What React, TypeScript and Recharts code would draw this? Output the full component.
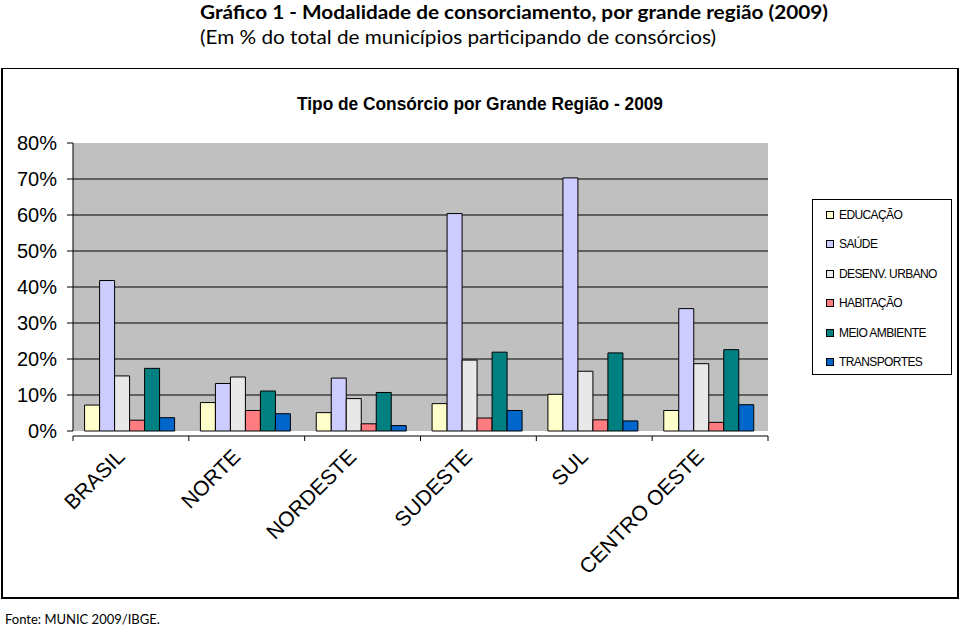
import React from 'react';
import { BarChart, Bar, XAxis, YAxis, CartesianGrid } from 'recharts';

const categories = ['BRASIL', 'NORTE', 'NORDESTE', 'SUDESTE', 'SUL', 'CENTRO OESTE'];
const educacao = [7.2, 7.9, 5.1, 7.6, 10.2, 5.7];
const saude = [41.8, 13.2, 14.7, 60.4, 70.3, 34.0];
const desenvUrbano = [15.3, 15.0, 9.0, 19.7, 16.6, 18.7];
const habitacao = [3.0, 5.7, 2.0, 3.6, 3.1, 2.4];
const meioAmbiente = [17.4, 11.1, 10.7, 21.9, 21.7, 22.6];
const transportes = [3.7, 4.8, 1.5, 5.7, 2.8, 7.3];
const yTicks = [0, 10, 20, 30, 40, 50, 60, 70, 80];
const boundaryTicks = [0, 1, 2, 3, 4, 5, 6];

const series = [
  { key: 'edu', name: 'EDUCAÇÃO', color: '#FFFFCC', values: educacao },
  { key: 'sau', name: 'SAÚDE', color: '#CCCCFF', values: saude },
  { key: 'des', name: 'DESENV. URBANO', color: '#E8E8E8', values: desenvUrbano },
  { key: 'hab', name: 'HABITAÇÃO', color: '#FF7C80', values: habitacao },
  { key: 'mei', name: 'MEIO AMBIENTE', color: '#008080', values: meioAmbiente },
  { key: 'tra', name: 'TRANSPORTES', color: '#0066CC', values: transportes },
];

const data = categories.map((c, i) => {
  const row: any = { cat: c, pos: i + 0.5 };
  series.forEach((s) => (row[s.key] = s.values[i]));
  return row;
});

const ARIAL = '"Liberation Sans", Arial, sans-serif';
const CAL = 'Lato, "Open Sans", sans-serif';

const XTick = (props: any) => {
  const { x, y, payload } = props;
  return (
    <g transform={`translate(${x - 5},${y + 19})`}>
      <text
        transform="rotate(-45)"
        textAnchor="end"
        fontFamily={ARIAL}
        fontSize={21}
        fill="#000"
      >
        {payload.value}
      </text>
    </g>
  );
};

export default function App() {
  return (
    <div style={{ position: 'relative', width: 960, height: 628, background: '#fff', overflow: 'hidden' }}>
      <style>{`body{margin:0}`}</style>
      <svg width={960} height={60} style={{ position: 'absolute', left: 0, top: 0 }}>
        <text x={200} y={19} fontFamily={CAL} fontWeight="bold" fontSize={19} textLength={628} lengthAdjust="spacingAndGlyphs" fill="#000">
          Gráfico 1 - Modalidade de consorciamento, por grande região (2009)
        </text>
        <text x={200} y={44} fontFamily={CAL} fontSize={20} textLength={516} lengthAdjust="spacingAndGlyphs" fill="#000">
          (Em % do total de municípios participando de consórcios)
        </text>
      </svg>
      <div
        style={{
          position: 'absolute',
          left: 1,
          top: 68,
          width: 954,
          height: 528,
          border: '1px solid #000',
          borderLeftWidth: 2,
          borderRightWidth: 2,
          borderBottomWidth: 2,
          boxSizing: 'content-box',
        }}
      />
      <svg width={960} height={120} style={{ position: 'absolute', left: 0, top: 80 }}>
        <text x={297} y={30} fontFamily={ARIAL} fontWeight="bold" fontSize={17.5} textLength={366} lengthAdjust="spacingAndGlyphs" fill="#000">
          Tipo de Consórcio por Grande Região - 2009
        </text>
      </svg>
      <div style={{ position: 'absolute', left: 0, top: 0 }}>
        <BarChart
          width={960}
          height={628}
          data={data}
          margin={{ top: 143, left: 13, right: 192, bottom: 187 }}
          barCategoryGap="10%"
          barGap={0}
        >
          <CartesianGrid
            fill="#C0C0C0"
            vertical={false}
            stroke="#000"
            strokeWidth={1}
            horizontalValues={[10, 20, 30, 40, 50, 60, 70]}
          />
          <XAxis
            xAxisId="grid"
            type="number"
            dataKey="pos"
            domain={[0, 6]}
            ticks={boundaryTicks}
            allowDataOverflow
            height={5}
            tickSize={5}
            tickFormatter={() => ''}
            axisLine={{ stroke: '#000' }}
            tickLine={{ stroke: '#000' }}
          />
          <XAxis
            xAxisId="cat"
            dataKey="cat"
            height={5}
            axisLine={false}
            tickLine={false}
            tick={<XTick />}
            interval={0}
          />
          <YAxis
            width={60}
            domain={[0, 80]}
            ticks={yTicks}
            tickFormatter={(v: number) => `${v}%`}
            tick={{ fontFamily: ARIAL, fontSize: 20, fill: '#000' }}
            tickSize={6}
            tickMargin={10}
            axisLine={{ stroke: '#000' }}
            tickLine={{ stroke: '#000' }}
          />
          {series.map((s) => (
            <Bar
              key={s.key}
              xAxisId="cat"
              dataKey={s.key}
              name={s.name}
              fill={s.color}
              stroke="#000"
              strokeWidth={1}
              isAnimationActive={false}
            />
          ))}
        </BarChart>
      </div>
      <div
        style={{
          position: 'absolute',
          left: 812,
          top: 199,
          width: 140,
          height: 176,
          border: '1px solid #000',
          background: '#fff',
          boxSizing: 'border-box',
        }}
      >
        {series.map((s, i) => (
          <div
            key={s.key}
            style={{
              position: 'absolute',
              left: 13,
              top: 8 + i * 29.4,
              display: 'flex',
              alignItems: 'center',
              fontFamily: ARIAL,
              fontSize: 12,
              letterSpacing: -0.6,
              color: '#000',
              whiteSpace: 'nowrap',
            }}
          >
            <span
              style={{
                display: 'inline-block',
                width: 6,
                height: 6,
                background: s.color,
                border: '1px solid #000',
                marginRight: 5,
              }}
            />
            {s.name}
          </div>
        ))}
      </div>
      <div style={{ position: 'absolute', left: 5, top: 611, fontFamily: CAL, fontSize: 13, color: '#000' }}>
        Fonte: MUNIC 2009/IBGE.
      </div>
    </div>
  );
}
